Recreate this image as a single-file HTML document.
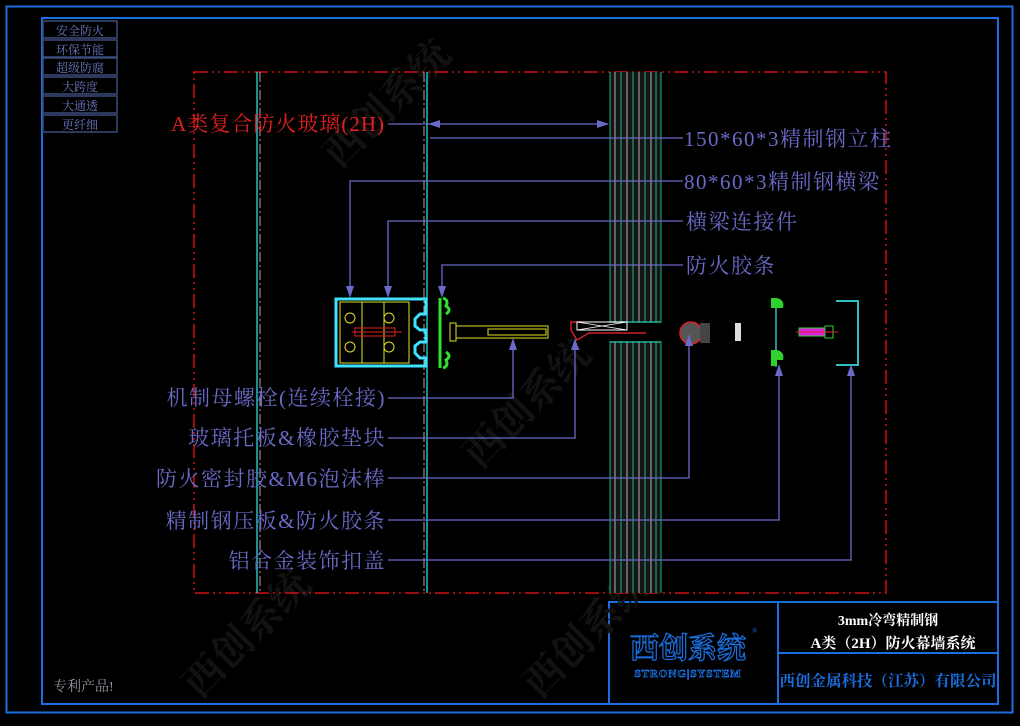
<!DOCTYPE html>
<html><head><meta charset="utf-8"><style>
html,body{margin:0;padding:0;background:#000;}
svg{display:block;}
text{font-family:"Liberation Serif","Noto Serif CJK SC","Noto Sans CJK SC",serif;}
</style></head><body>
<svg width="1020" height="726" viewBox="0 0 1020 726" xmlns="http://www.w3.org/2000/svg">
<rect width="1020" height="726" fill="#000"/>
<rect x="6.5" y="6.5" width="1006" height="706" fill="none" stroke="#1a6fe0" stroke-width="2"/>
<rect x="42" y="18" width="956" height="686" fill="none" stroke="#1a6fe0" stroke-width="2"/>
<rect x="609" y="602" width="389" height="102" fill="none" stroke="#1a6fe0" stroke-width="2"/>
<line x1="778" y1="602" x2="778" y2="704" stroke="#1a6fe0" stroke-width="2"/>
<line x1="778" y1="653" x2="998" y2="653" stroke="#1a6fe0" stroke-width="2"/>
<text x="888" y="625" fill="#fff" font-size="14" font-weight="bold" text-anchor="middle">3mm冷弯精制钢</text>
<text x="893" y="648" fill="#fff" font-size="15" font-weight="bold" text-anchor="middle">A类（2H）防火幕墙系统</text>
<text x="888" y="686" fill="#1a6fe0" font-size="15.5" font-weight="bold" text-anchor="middle">西创金属科技（江苏）有限公司</text>
<text x="688" y="658" fill="none" stroke="#1a6fe0" stroke-width="1.2" font-size="29" font-weight="bold" text-anchor="middle" font-family="Liberation Sans,Noto Sans CJK SC,sans-serif">西创系统</text>
<text x="752" y="633" fill="#1a6fe0" font-size="7">®</text>
<text x="688" y="677" fill="none" stroke="#1a6fe0" stroke-width="0.8" font-size="11" font-weight="bold" text-anchor="middle" letter-spacing="1" font-family="Liberation Sans,sans-serif">STRONG|SYSTEM</text>
<text x="53" y="691" fill="#9a9aa8" font-size="14">专利产品!</text>
<g stroke="#3a4a7a" stroke-width="1.5" fill="none">
<rect x="43" y="21" width="74" height="17"/><rect x="43" y="40" width="74" height="17"/><rect x="43" y="58" width="74" height="17"/>
<rect x="43" y="77" width="74" height="17"/><rect x="43" y="96" width="74" height="17"/><rect x="43" y="115" width="74" height="17"/>
</g>
<g fill="#6a78c0" font-size="12" text-anchor="middle">
<text x="80" y="35">安全防火</text><text x="80" y="54">环保节能</text><text x="80" y="72">超级防腐</text>
<text x="80" y="91">大跨度</text><text x="80" y="110">大通透</text><text x="80" y="129">更纤细</text>
</g>
<g fill="#121212" font-size="40" font-weight="bold">
<text transform="translate(340,170) rotate(-45)">西创系统</text>
<text transform="translate(480,470) rotate(-45)">西创系统</text>
<text transform="translate(200,700) rotate(-45)">西创系统</text>
<text transform="translate(540,700) rotate(-45)">西创系统</text>
</g>
<rect x="194" y="72" width="692" height="521" fill="none" stroke="#d01010" stroke-width="1.5" stroke-dasharray="14 4 2 4 2 4"/>
<line x1="257" y1="72" x2="257" y2="593" stroke="#20c0c0" stroke-width="1.5"/>
<line x1="260" y1="72" x2="260" y2="593" stroke="#aaa" stroke-width="1" stroke-dasharray="10 3 2 3"/>
<line x1="424" y1="72" x2="424" y2="593" stroke="#aaa" stroke-width="1" stroke-dasharray="10 3 2 3"/>
<line x1="427" y1="72" x2="427" y2="593" stroke="#20c0c0" stroke-width="1.5"/>
<g>
<rect x="610" y="72" width="51" height="250" fill="#151515"/>
<rect x="610" y="342" width="51" height="251" fill="#151515"/>
<g stroke="#20b090" stroke-width="1">
<line x1="610" y1="72" x2="610" y2="593"/><line x1="661" y1="72" x2="661" y2="593"/>
<line x1="621" y1="72" x2="621" y2="593"/><line x1="633" y1="72" x2="633" y2="593"/><line x1="645" y1="72" x2="645" y2="593"/><line x1="656" y1="72" x2="656" y2="593"/>
</g>
<g stroke="#999" stroke-width="1.2">
<line x1="615" y1="72" x2="615" y2="593"/><line x1="627" y1="72" x2="627" y2="593"/>
<line x1="639" y1="72" x2="639" y2="593"/><line x1="651" y1="72" x2="651" y2="593"/>
</g>
<rect x="609" y="323" width="53" height="18" fill="#000"/>
<path d="M610 322 h51 M610 342 h51" stroke="#20b090" stroke-width="1.5"/>
</g>
<g>
<path d="M336 299 h90 v15 h-6 l-5 5 v7 l5 4 h6 v12 h-6 l-5 4 v7 l5 5 h6 v8 h-90 z" fill="none" stroke="#40e0ff" stroke-width="3"/>
<rect x="340" y="302" width="44" height="61" fill="none" stroke="#e0e020" stroke-width="1"/>
<rect x="384" y="302" width="25" height="61" fill="none" stroke="#e0e020" stroke-width="1"/>
<line x1="362" y1="302" x2="362" y2="363" stroke="#e0e020"/>
<circle cx="350" cy="318" r="5" fill="none" stroke="#e0e020"/><circle cx="350" cy="347" r="5" fill="none" stroke="#e0e020"/>
<circle cx="389" cy="318" r="5" fill="none" stroke="#e0e020"/><circle cx="389" cy="347" r="5" fill="none" stroke="#e0e020"/>
<rect x="355" y="328" width="40" height="8" fill="none" stroke="#e02020"/>
<line x1="352" y1="332" x2="402" y2="332" stroke="#e02020"/>
<path d="M440 298 v70 M443 298 q6 2 3 8 q6 4 0 8 M443 368 q6 -2 3 -8 q6 -4 0 -8" fill="none" stroke="#30e030" stroke-width="3"/>
<rect x="450" y="323" width="6" height="18" fill="none" stroke="#e0e020"/>
<rect x="456" y="326" width="92" height="12" fill="none" stroke="#e0e020"/>
<rect x="488" y="329" width="58" height="6" fill="none" stroke="#e0e020"/>
<path d="M581 322 h-10 v8 l6 10 l12 -7 h57" fill="none" stroke="#d02020" stroke-width="1.5"/>
<rect x="577" y="322" width="50" height="8" fill="none" stroke="#fff" stroke-width="1"/>
<path d="M577 322 l50 8 M577 330 l50 -8" stroke="#fff" stroke-width="0.8"/>
<circle cx="691" cy="333" r="11" fill="#555" stroke="#e02020" stroke-width="1.5"/>
<rect x="700" y="323" width="10" height="20" fill="#444"/>
<rect x="735" y="323" width="6" height="18" fill="#ddd"/>
<path d="M776 299 v68" stroke="#30c0c0" stroke-width="1.5"/>
<path d="M771 298 h6 q8 2 6 10 h-12z M771 350 h6 q8 2 6 10 h-6 v6 h-6z" fill="#30d030"/>
<rect x="799" y="328" width="26" height="8" fill="#e020e0" stroke="#30d030"/>
<rect x="825" y="326" width="8" height="12" fill="none" stroke="#30d030"/>
<line x1="796" y1="332" x2="838" y2="332" stroke="#e02020"/>
<path d="M836 301 h22 v64 h-22" fill="none" stroke="#30c0c0" stroke-width="2"/>
</g>
<g stroke="#6a6ac8" stroke-width="1.3" fill="none">
<line x1="388" y1="124" x2="608" y2="124"/>
<line x1="430" y1="138" x2="683" y2="138"/>
<path d="M683 181 H350 V293"/>
<path d="M683 221 H388 V293"/>
<path d="M683 265 H442 V293"/>
<path d="M388 398 H513 V342"/>
<path d="M388 438 H575 V342"/>
<path d="M388 478 H689 V338"/>
<path d="M388 520 H779 V368"/>
<path d="M388 560 H851 V368"/>
</g>
<g fill="#6a6ac8">
<path d="M428 124 l12 -4 v8z"/><path d="M609 124 l-12 -4 v8z"/>
<path d="M350 298 l-4 -12 h8z"/><path d="M388 298 l-4 -12 h8z"/><path d="M442 298 l-4 -12 h8z"/>
<path d="M513 338 l-4 12 h8z"/><path d="M575 338 l-4 12 h8z"/><path d="M689 334 l-4 12 h8z"/>
<path d="M779 364 l-4 12 h8z"/><path d="M851 364 l-4 12 h8z"/>
</g>
<text x="385" y="131" fill="#e02020" font-size="21" letter-spacing="1" text-anchor="end">A类复合防火玻璃(2H)</text>
<g fill="#6a6ac8" font-size="21" letter-spacing="1.5">
<text x="684" y="146">150*60*3精制钢立柱</text>
<text x="684" y="189">80*60*3精制钢横梁</text>
<text x="686" y="229">横梁连接件</text>
<text x="686" y="273">防火胶条</text>
</g>
<g fill="#6a6ac8" font-size="21" letter-spacing="1.5" text-anchor="end">
<text x="386" y="405">机制母螺栓(连续栓接)</text>
<text x="386" y="445">玻璃托板&amp;橡胶垫块</text>
<text x="386" y="486">防火密封胶&amp;M6泡沫棒</text>
<text x="386" y="528">精制钢压板&amp;防火胶条</text>
<text x="386" y="568">铝合金装饰扣盖</text>
</g>
</svg>
</body></html>
